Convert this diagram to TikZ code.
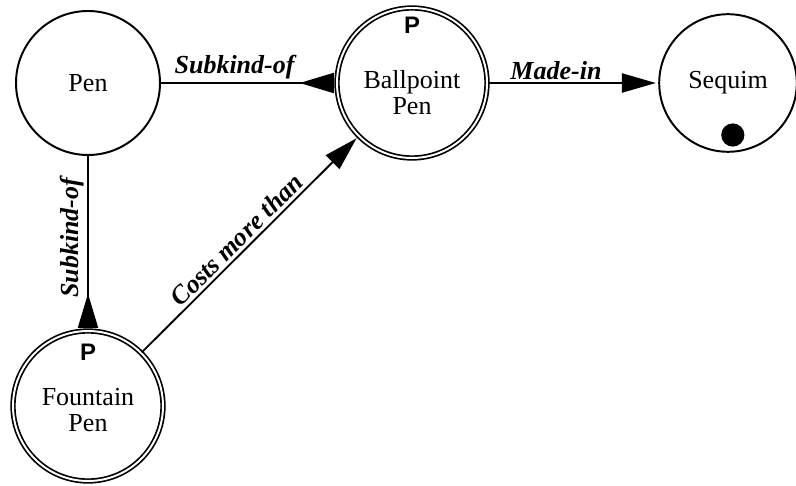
\documentclass[tikz,border=0pt]{standalone}
\usepackage{fontspec}
\setmainfont{Liberation Serif}
\newfontfamily\tagfont{Liberation Sans}
\usepackage{tikz}
\usetikzlibrary{arrows.meta,positioning}

\begin{document}
\begin{tikzpicture}[
    concept/.style={circle, draw, line width=1.4pt, inner sep=0pt,
        minimum size=3.6cm, align=center},
    partconcept/.style={circle, draw, line width=1.2pt, double,
        double distance=1.4pt, inner sep=0pt, minimum size=3.75cm},
    conceptname/.style={align=center, inner sep=0pt},
    ptag/.style={font=\tagfont\bfseries\fontsize{17}{17}\selectfont, inner sep=0pt},
    link/.style={line width=1.3pt},
    linklabel/.style={font=\bfseries\itshape, inner sep=2pt},
    kindtip/.style={-{Triangle[reversed, length=0.85cm, width=0.5cm]}, shorten >=0.06cm},
    reltip/.style={-{Triangle[length=0.85cm, width=0.48cm]}, shorten >=0.06cm}
]
    \fontsize{18.5}{18.5}\selectfont
    \useasboundingbox (0,0) rectangle (19.9,12.125);

    % Concepts
    \node[concept] (pen) at (2.2,10.05) {Pen};
    \node[partconcept] (ballpoint) at (10.3,10.05) {};
    \node[concept, minimum size=3.44cm] (sequim) at (18.2,10.05) {Sequim};
    \node[partconcept] (fountain) at (2.2,1.975) {};

    % Names and tags inside the part concepts
    \node[conceptname] (ballpoint-name) at ([yshift=-0.25cm]ballpoint.center) {Ballpoint\\Pen};
    \node[ptag] (ballpoint-p) at ([yshift=1.45cm]ballpoint.center) {P};
    \node[conceptname] (fountain-name) at ([yshift=-0.1cm]fountain.center) {Fountain\\Pen};
    \node[ptag] (fountain-p) at ([yshift=1.35cm]fountain.center) {P};

    % Individual marker
    \fill ([xshift=0.12cm, yshift=-1.3cm]sequim.center) circle (0.29cm);

    % Relations
    \draw[link, kindtip] (pen) -- node[linklabel, above, pos=0.42] {Subkind-of} (ballpoint);
    \draw[link, reltip] (ballpoint) -- node[linklabel, above, pos=0.4] {Made-in} (sequim);
    \draw[link, kindtip] (pen) -- node[linklabel, rotate=90, anchor=south, pos=0.47] {Subkind-of} (fountain);
    \draw[link, reltip] (fountain) -- node[linklabel, above, sloped, pos=0.48] {Costs more than} (ballpoint);
\end{tikzpicture}
\end{document}
